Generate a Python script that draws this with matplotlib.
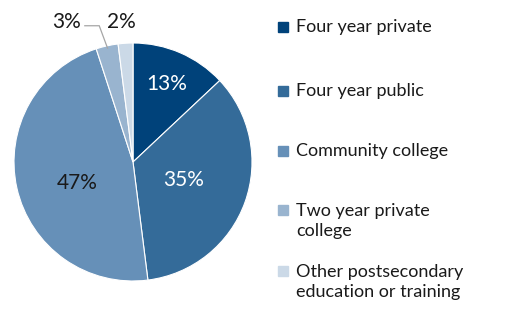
import numpy as np
import matplotlib.pyplot as plt
from matplotlib.patches import Rectangle

categories = ["Four year private", "Four year public", "Community college",
              "Two year private\ncollege", "Other postsecondary\neducation or training"]
shares = [13, 35, 47, 3, 2]
colors = ["#00427a", "#346b99", "#6690b8", "#99b4cf", "#cbd9e7"]
label_colors = ["white", "white", "#1a1a1a", "#1a1a1a", "#1a1a1a"]

plt.rcParams["font.family"] = ["Lato", "DejaVu Sans"]

W, H = 511, 312
fig = plt.figure(figsize=(W / 100, H / 100), dpi=100)
R = 119.0
ax = fig.add_axes([0, 0, 266 / W, 300 / H])

wedges, _ = ax.pie(shares, colors=colors, startangle=90, counterclock=False,
                   radius=1.0, wedgeprops=dict(edgecolor="white", linewidth=0.8))
ax.set_xlim(-133 / R, 133 / R)
ax.set_ylim(-150 / R, 150 / R)
ax.set_aspect("auto")
ax.axis("off")

# inside labels: radius and small angle nudge (deg) per slice
dists = [0.71, 0.45, 0.5]
nudge = [0, 0, 8]
for i, w in enumerate(wedges):
    mid = np.deg2rad((w.theta1 + w.theta2) / 2)
    txt = f"{shares[i]}%"
    if i < 3:
        a = mid + np.deg2rad(nudge[i])
        ax.text(dists[i] * np.cos(a), dists[i] * np.sin(a), txt,
                ha="center", va="center", fontsize=15, color=label_colors[i])
    elif i == 3:
        lx, ly = -0.555, 1.176
        ax.text(lx, ly, txt, ha="center", va="center", fontsize=15,
                color=label_colors[i])
        ex, ey = 0.98 * np.cos(mid), 0.98 * np.sin(mid)
        kx, ky = ex - 0.07, 1.145
        ax.plot([lx + 0.15, kx, ex], [ky, ky, ey], color="#a6a6a6", lw=0.9,
                solid_joinstyle="miter")
    else:
        ax.text(-0.10, 1.176, txt, ha="center", va="center", fontsize=15,
                color=label_colors[i])

# legend drawn by hand
centers = [27, 91, 151, 221, 282]
sq = 10
for lab, c, yc in zip(categories, colors, centers):
    nl = lab.count("\n")
    ytop = yc - nl * 11.5
    fig.patches.append(Rectangle((278 / W, 1 - (ytop + sq / 2) / H), sq / W, sq / H,
                                 transform=fig.transFigure, color=c))
    fig.text(296 / W, 1 - yc / H, lab, ha="left", va="center", fontsize=13,
             color="#1a1a1a", linespacing=1.25)

fig.savefig("out.png", dpi=100)
